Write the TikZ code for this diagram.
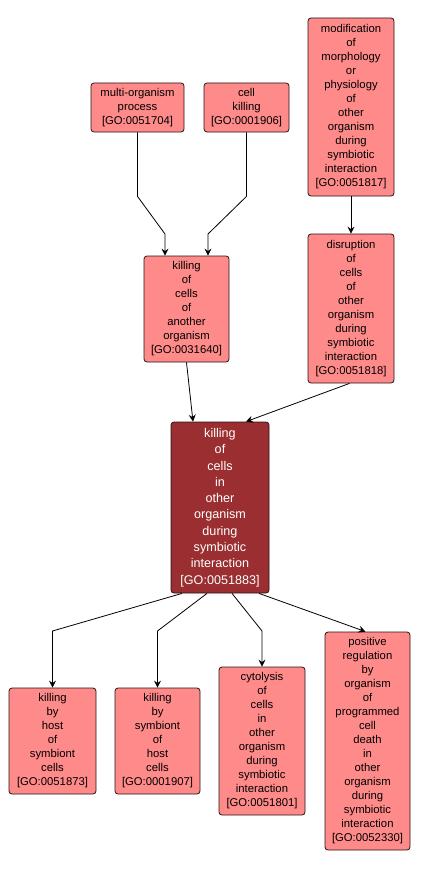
\documentclass[tikz,border=0pt]{standalone}
\usepackage{fontspec}
\setmainfont{Liberation Sans}
\usetikzlibrary{arrows.meta,calc}
\definecolor{boxfill}{RGB}{255,138,138}
\definecolor{mainfill}{RGB}{154,46,48}
\definecolor{boxline}{RGB}{40,20,20}
\tikzset{
  gobox/.style={draw=boxline, line width=0.8pt, fill=boxfill, rounded corners=3pt,
    align=center, inner sep=0pt, font=\fontsize{11.3}{14}\selectfont, text=black},
  mainbox/.style={gobox, fill=mainfill, text=white, font=\fontsize{12.6}{16.3}\selectfont},
  edge/.style={draw=black, line width=0.8pt, -{Stealth[length=7pt,width=7pt,inset=2.5pt]}},
}
\newcommand{\gonode}[7]{% style, name, left, top, right, bottom, text
  \node[#1, minimum width=#5pt-#3pt, minimum height=#6pt-#4pt] (#2) at ({(#3+#5)/2},{(#4+#6)/2}) {#7};}
\begin{document}
\begin{tikzpicture}[x=1pt,y=-1pt]
\useasboundingbox (0,0) rectangle (420,872);
\fill[white] (0,0) rectangle (420,872);
\gonode{gobox}{mop}{91}{83}{184}{132}{multi-organism\\process\\{[GO:0051704]}}
\gonode{gobox}{ck}{204}{83}{289}{132}{cell\\killing\\{[GO:0001906]}}
\gonode{gobox}{mod}{308}{18}{394}{196}{modification\\of\\morphology\\or\\physiology\\of\\other\\organism\\during\\symbiotic\\interaction\\{[GO:0051817]}}
\gonode{gobox}{dis}{308}{234}{394}{383}{disruption\\of\\cells\\of\\other\\organism\\during\\symbiotic\\interaction\\{[GO:0051818]}}
\gonode{gobox}{ko}{144}{256}{229}{362}{killing\\of\\cells\\of\\another\\organism\\{[GO:0031640]}}
\gonode{mainbox}{main}{171}{422}{269}{593}{killing\\of\\cells\\in\\other\\organism\\during\\symbiotic\\interaction\\{[GO:0051883]}}
\gonode{gobox}{host}{9}{688}{96}{794}{killing\\by\\host\\of\\symbiont\\cells\\{[GO:0051873]}}
\gonode{gobox}{sym}{115}{688}{200}{794}{killing\\by\\symbiont\\of\\host\\cells\\{[GO:0001907]}}
\gonode{gobox}{cyt}{219}{667}{305}{815}{cytolysis\\of\\cells\\in\\other\\organism\\during\\symbiotic\\interaction\\{[GO:0051801]}}
\gonode{gobox}{pos}{325}{632}{410}{850}{positive\\regulation\\by\\organism\\of\\programmed\\cell\\death\\in\\other\\organism\\during\\symbiotic\\interaction\\{[GO:0052330]}}
% edges
\draw[edge] (mop.south) -- ($(mop.south)+(0,64)$) -- (165,234) -- ([xshift=-21.5pt]ko.north);
\draw[edge] (ck.south) -- ($(ck.south)+(0,64)$) -- (208,234) -- ([xshift=21.5pt]ko.north);
\draw[edge] (mod.south) -- (dis.north);
\draw[edge] (ko.south) -- ([xshift=-27pt]main.north);
\draw[edge] ([xshift=-1.5pt]dis.south) -- ([xshift=26pt]main.north);
\draw[edge] ([xshift=-38pt]main.south) -- (52.5,631) -- (host.north);
\draw[edge] ([xshift=-13pt]main.south) -- (157.5,631) -- (sym.north);
\draw[edge] ([xshift=12pt]main.south) -- (262,631) -- (cyt.north);
\draw[edge] ([xshift=39pt]main.south) -- ([xshift=-2pt]pos.north);
\end{tikzpicture}
\end{document}
